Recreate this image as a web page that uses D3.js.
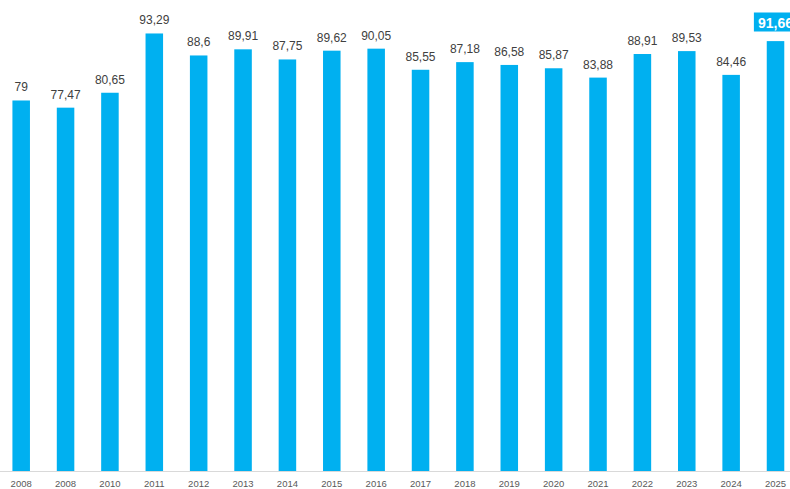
<!DOCTYPE html>
<html>
<head>
<meta charset="utf-8">
<script src="https://cdn.jsdelivr.net/npm/d3@7/dist/d3.min.js"></script>
<style>
  html, body { margin: 0; padding: 0; background: #fff; overflow: hidden; }
  svg { display: block; }
</style>
</head>
<body>
<svg id="chart" width="790" height="489"></svg>
<script>
const categories = ["2008","2008","2010","2011","2012","2013","2014","2015","2016","2017","2018","2019","2020","2021","2022","2023","2024","2025"];
const values = [79, 77.47, 80.65, 93.29, 88.6, 89.91, 87.75, 89.62, 90.05, 85.55, 87.18, 86.58, 85.87, 83.88, 88.91, 89.53, 84.46, 91.66];
const valueLabels = ["79","77,47","80,65","93,29","88,6","89,91","87,75","89,62","90,05","85,55","87,18","86,58","85,87","83,88","88,91","89,53","84,46","91,66"];
const highlightIndex = 17;

const W = 790, H = 489;
const baseY = 471;
const svg = d3.select("#chart");

const x = d3.scaleBand()
  .domain(d3.range(categories.length))
  .range([-1, 797.7])
  .paddingInner(0.605)
  .paddingOuter(0.3025);

const y = d3.scaleLinear().domain([0, 100]).range([baseY, 2]);

// axis line
svg.append("line")
  .attr("x1", 0).attr("x2", W)
  .attr("y1", baseY + 0.5).attr("y2", baseY + 0.5)
  .attr("stroke", "#d9d9d9").attr("stroke-width", 1);

// bars
svg.append("g").selectAll("rect")
  .data(values)
  .join("rect")
  .attr("x", (d, i) => x(i))
  .attr("y", d => y(d))
  .attr("width", x.bandwidth())
  .attr("height", d => baseY - y(d))
  .attr("fill", "#00b0f0");

// value labels
const lbl = svg.append("g")
  .attr("font-family", "'Liberation Sans', Arial, sans-serif");

values.forEach((v, i) => {
  const cx = x(i) + x.bandwidth() / 2;
  if (i === highlightIndex) {
    const t = lbl.append("text")
      .attr("x", cx).attr("y", 27.5)
      .attr("text-anchor", "middle")
      .attr("font-size", 14).attr("font-weight", "bold")
      .attr("fill", "#fff")
      .text(valueLabels[i]);
    const bb = t.node().getBBox();
    lbl.insert("rect", "text")
      .attr("x", cx - (bb.width + 8) / 2)
      .attr("y", 12.5)
      .attr("width", bb.width + 8)
      .attr("height", 19)
      .attr("fill", "#00b0f0");
  } else {
    lbl.append("text")
      .attr("x", cx).attr("y", y(v) - 9)
      .attr("text-anchor", "middle")
      .attr("font-size", 12)
      .attr("fill", "#404040")
      .text(valueLabels[i]);
  }
});

// x axis labels
const xAxis = d3.axisBottom(x).tickSize(0).tickFormat(i => categories[i]);
const gx = svg.append("g")
  .attr("transform", `translate(0,${baseY})`)
  .call(xAxis);
gx.select(".domain").remove();
gx.selectAll("text")
  .attr("dy", 0)
  .attr("y", 16)
  .attr("font-family", "'Liberation Sans', Arial, sans-serif")
  .attr("font-size", 9.5)
  .attr("fill", "#595959");
</script>
</body>
</html>
